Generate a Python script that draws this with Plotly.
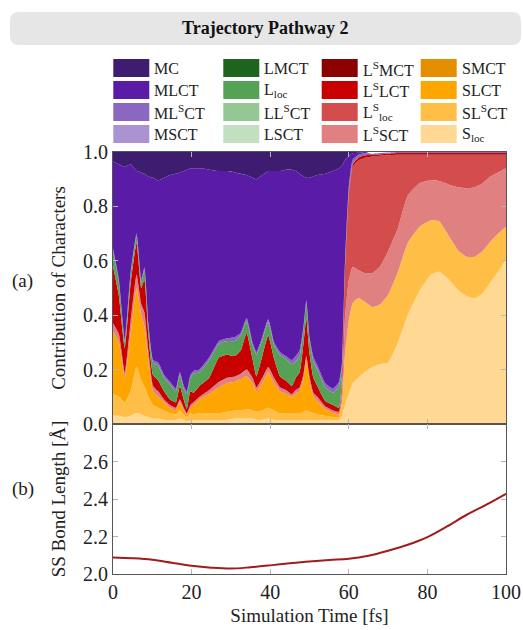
import plotly.graph_objects as go

# ---------------- data ----------------
time_fs = [0, 1.5, 3, 4.5, 6, 7.2, 8, 9, 10.2, 11.5, 13, 14.5, 16, 17, 18, 18.8, 19.7, 20.5, 22, 24.5,
           27, 29, 31, 32.5, 34, 35.5, 36.5, 38, 39.5, 41, 42.5, 44, 45.5, 46.5, 47.5, 48.5, 49.2, 50, 51, 52,
           54, 56, 57.5, 58.3, 59, 60, 61, 62.5, 64, 66, 68, 70, 72.5, 75, 78, 81, 83, 85.5, 88, 90,
           92, 94, 96, 98, 100]

S_loc = [0.03, 0.03, 0.025, 0.03, 0.04, 0.035, 0.03, 0.025, 0.02, 0.02, 0.015, 0.015, 0.015, 0.02, 0.015, 0.01, 0.015, 0.015, 0.015, 0.015,
         0.015, 0.015, 0.02, 0.02, 0.02, 0.02, 0.015, 0.015, 0.02, 0.015, 0.015, 0.015, 0.015, 0.015, 0.015, 0.015, 0.015, 0.015, 0.015, 0.015,
         0.015, 0.015, 0.015, 0.03, 0.07, 0.11, 0.15, 0.17, 0.19, 0.21, 0.22, 0.225, 0.30, 0.40, 0.49, 0.55, 0.56, 0.53, 0.49, 0.47,
         0.462, 0.48, 0.52, 0.56, 0.605]
SLSCT = [0.08, 0.07, 0.055, 0.09, 0.17, 0.125, 0.11, 0.075, 0.05, 0.04, 0.035, 0.025, 0.02, 0.03, 0.02, 0.015, 0.025, 0.02, 0.025, 0.025,
         0.025, 0.03, 0.03, 0.03, 0.035, 0.03, 0.03, 0.035, 0.04, 0.035, 0.025, 0.025, 0.025, 0.025, 0.025, 0.03, 0.035, 0.03, 0.025, 0.02,
         0.015, 0.01, 0.01, 0.05, 0.18, 0.27, 0.295, 0.293, 0.26, 0.22, 0.22, 0.25, 0.26, 0.265, 0.235, 0.20, 0.185, 0.16, 0.145, 0.145,
         0.153, 0.155, 0.15, 0.14, 0.12]
SLCT = [0.23, 0.20, 0.09, 0.21, 0.29, 0.24, 0.22, 0.14, 0.05, 0.04, 0.03, 0.02, 0.015, 0.03, 0.015, 0.01, 0.02, 0.035, 0.05, 0.07,
        0.095, 0.105, 0.105, 0.115, 0.12, 0.10, 0.075, 0.10, 0.13, 0.10, 0.08, 0.07, 0.06, 0.07, 0.08, 0.125, 0.185, 0.115, 0.06, 0.05,
        0.025, 0.015, 0.01, 0.005, 0, 0, 0, 0, 0, 0, 0, 0, 0, 0, 0, 0, 0, 0, 0, 0,
        0, 0, 0, 0, 0]
SMCT = [0] * 65
LSSCT = [0.03, 0.03, 0.02, 0.05, 0.05, 0.04, 0.05, 0.03, 0.02, 0.02, 0.01, 0.01, 0.01, 0.01, 0.01, 0.005, 0.01, 0.01, 0.01, 0.015,
         0.02, 0.02, 0.02, 0.02, 0.025, 0.02, 0.015, 0.02, 0.02, 0.02, 0.015, 0.015, 0.01, 0.015, 0.015, 0.015, 0.015, 0.015, 0.015, 0.015,
         0.01, 0.01, 0.01, 0.035, 0.13, 0.15, 0.133, 0.102, 0.105, 0.125, 0.14, 0.16, 0.16, 0.175, 0.16, 0.147, 0.148, 0.19, 0.235, 0.251,
         0.255, 0.25, 0.24, 0.225, 0.215]
LSloc = [0, 0, 0, 0, 0, 0, 0, 0, 0, 0, 0, 0, 0, 0, 0, 0, 0, 0, 0, 0,
         0, 0, 0, 0, 0, 0, 0, 0, 0, 0, 0, 0, 0, 0, 0, 0, 0, 0, 0, 0,
         0, 0, 0, 0.05, 0.18, 0.31, 0.367, 0.405, 0.423, 0.428, 0.406, 0.353, 0.27, 0.15, 0.105, 0.093, 0.097, 0.11, 0.12, 0.124,
         0.12, 0.105, 0.08, 0.065, 0.05]
LSLCT = [0.21, 0.14, 0.09, 0.14, 0.115, 0.06, 0.12, 0.06, 0.04, 0.04, 0.03, 0.02, 0.02, 0.05, 0.03, 0.015, 0.05, 0.035, 0.04, 0.045,
         0.09, 0.085, 0.075, 0.085, 0.135, 0.07, 0.04, 0.08, 0.115, 0.07, 0.04, 0.035, 0.03, 0.045, 0.055, 0.115, 0.14, 0.085, 0.055, 0.04,
         0.02, 0.02, 0.015, 0.015, 0.005, 0.01, 0.01, 0.01, 0.01, 0.006, 0.006, 0.006, 0.006, 0.006, 0.006, 0.006, 0.006, 0.006, 0.006, 0.006,
         0.006, 0.006, 0.006, 0.006, 0.006]
LSMCT = [0] * 65
LSCT = [0] * 65
LLSCT = [0] * 65
Lloc = [0.055, 0.05, 0.02, 0.03, 0.025, 0.02, 0.035, 0.03, 0.045, 0.055, 0.05, 0.055, 0.04, 0.04, 0.04, 0.055, 0.05, 0.07, 0.05, 0.065,
        0.05, 0.05, 0.055, 0.055, 0.045, 0.05, 0.08, 0.06, 0.05, 0.05, 0.08, 0.08, 0.08, 0.06, 0.06, 0.05, 0.055, 0.05, 0.06, 0.06,
        0.05, 0.045, 0.08, 0.03, 0.01, 0.005, 0.002, 0, 0, 0, 0, 0, 0, 0, 0, 0, 0, 0, 0, 0,
        0, 0, 0, 0, 0]
LMCT = [0] * 65
MSCT = [0] * 65
MLSCT = [0.01, 0.01, 0.01, 0.01, 0.01, 0.01, 0.01, 0.01, 0.01, 0.01, 0.01, 0.01, 0.01, 0.01, 0.01, 0.01, 0.01, 0.01, 0.01, 0.01,
         0.01, 0.01, 0.015, 0.01, 0.01, 0.01, 0.01, 0.01, 0.01, 0.01, 0.01, 0.01, 0.015, 0.02, 0.02, 0.01, 0.01, 0.01, 0.015, 0.015,
         0.015, 0.015, 0.015, 0.015, 0.01, 0.015, 0.015, 0.01, 0.007, 0.004, 0.004, 0.004, 0.004, 0.004, 0.004, 0.004, 0.004, 0.004, 0.004, 0.004,
         0.004, 0.004, 0.004, 0.004, 0.004]
MLCT = [0.32, 0.425, 0.635, 0.395, 0.23, 0.395, 0.345, 0.54, 0.67, 0.67, 0.725, 0.76, 0.79, 0.735, 0.79, 0.815, 0.76, 0.745, 0.74, 0.69,
        0.625, 0.615, 0.605, 0.585, 0.525, 0.605, 0.635, 0.595, 0.545, 0.63, 0.665, 0.685, 0.70, 0.68, 0.65, 0.55, 0.45, 0.585, 0.665, 0.70,
        0.77, 0.80, 0.785, 0.72, 0.385, 0.115, 0.023, 0.007, 0.005, 0, 0, 0, 0, 0, 0, 0, 0, 0, 0, 0,
        0, 0, 0, 0, 0]
MC = [0.035, 0.045, 0.055, 0.05, 0.07, 0.075, 0.08, 0.09, 0.095, 0.105, 0.095, 0.085, 0.08, 0.075, 0.07, 0.065, 0.06, 0.06, 0.06, 0.065,
      0.07, 0.07, 0.075, 0.08, 0.085, 0.095, 0.10, 0.085, 0.07, 0.07, 0.07, 0.065, 0.065, 0.07, 0.08, 0.09, 0.095, 0.095, 0.09, 0.085,
      0.08, 0.07, 0.06, 0.05, 0.03, 0.015, 0.007, 0.003, 0, 0, 0, 0, 0, 0, 0, 0, 0, 0, 0, 0,
      0, 0, 0, 0, 0]

bond_time = [0, 5, 10, 15, 20, 25, 30, 35, 40, 45, 50, 55, 60, 65, 70, 75, 80, 85, 90, 95, 100]
ss_bond = [2.088, 2.084, 2.076, 2.06, 2.044, 2.034, 2.029, 2.036, 2.046, 2.057, 2.067, 2.075, 2.081, 2.097,
           2.124, 2.156, 2.197, 2.254, 2.316, 2.37, 2.428]

# legend grid (rows x columns)
legend_grid = [
    [("MC", "#3e1c70"), ("LMCT", "#1e641e"), ("L<sup>S</sup>MCT", "#8b0000"), ("SMCT", "#e38f00")],
    [("MLCT", "#5a1ca7"), ("L<sub>loc</sub>", "#55a155"), ("L<sup>S</sup>LCT", "#c80000"), ("SLCT", "#ffa500")],
    [("ML<sup>S</sup>CT", "#8a67c0"), ("LL<sup>S</sup>CT", "#94c794"), ("L<sup>S</sup><sub>loc</sub>", "#d44d4d"), ("SL<sup>S</sup>CT", "#ffbf47")],
    [("MSCT", "#ab93d3"), ("LSCT", "#c2e0c0"), ("L<sup>S</sup>SCT", "#e08080"), ("S<sub>loc</sub>", "#ffd994")],
]
color_of = {name: col for row in legend_grid for name, col in row}

# stacking order bottom -> top
stack = [
    ("S<sub>loc</sub>", S_loc), ("SL<sup>S</sup>CT", SLSCT), ("SLCT", SLCT), ("SMCT", SMCT),
    ("L<sup>S</sup>SCT", LSSCT), ("L<sup>S</sup><sub>loc</sub>", LSloc), ("L<sup>S</sup>LCT", LSLCT), ("L<sup>S</sup>MCT", LSMCT),
    ("LSCT", LSCT), ("LL<sup>S</sup>CT", LLSCT), ("L<sub>loc</sub>", Lloc), ("LMCT", LMCT),
    ("MSCT", MSCT), ("ML<sup>S</sup>CT", MLSCT), ("MLCT", MLCT), ("MC", MC),
]

FONT = "Liberation Serif"
W, H = 523, 630
ML, MR, MT, MB = 113, 17, 152, 56
PW, PH = W - ML - MR, H - MT - MB
split = 150 / PH  # bottom panel height fraction


def px2x(px):
    return (px - ML) / PW


def py2y(py):
    return (H - MB - py) / PH


fig = go.Figure()

for name, vals in stack:
    fig.add_trace(go.Scatter(
        x=time_fs, y=vals, stackgroup="one", mode="lines", name=name,
        line=dict(width=0, shape="spline", smoothing=0.45),
        fillcolor=color_of[name], showlegend=False, hoverinfo="skip",
        xaxis="x", yaxis="y"))

fig.add_trace(go.Scatter(
    x=bond_time, y=ss_bond, mode="lines", line=dict(color="#a01c1c", width=2, shape="spline"),
    showlegend=False, xaxis="x2", yaxis="y2"))

axis_common = dict(showline=True, linecolor="#555555", linewidth=1, mirror="ticks",
                   ticks="inside", ticklen=5, tickcolor="#b5b5b5", tickwidth=1,
                   showgrid=False, zeroline=False, automargin=False,
                   tickfont=dict(family=FONT, size=20, color="#222222"))

fig.update_layout(
    width=W, height=H,
    margin=dict(l=ML, r=MR, t=MT, b=MB, autoexpand=False),
    paper_bgcolor="white", plot_bgcolor="white",
    font=dict(family=FONT, color="#222222"),
    xaxis=dict(domain=[0, 1], anchor="y", range=[0, 100], dtick=20, showticklabels=False, **axis_common),
    yaxis=dict(domain=[split, 1], anchor="x", range=[0, 1], tickvals=[0, 0.2, 0.4, 0.6, 0.8, 1.0],
               tickformat=".1f", title=dict(text="Contribution of Characters", font=dict(family=FONT, size=19),
                                            standoff=12), **axis_common),
    xaxis2=dict(domain=[0, 1], anchor="y2", range=[0, 100], dtick=20,
                title=dict(text="Simulation Time [fs]", font=dict(family=FONT, size=19), standoff=6),
                **axis_common),
    yaxis2=dict(domain=[0, split], anchor="x2", range=[2.0, 2.8], tickvals=[2.0, 2.2, 2.4, 2.6],
                tickformat=".1f", title=dict(text="SS Bond Length [Å]", font=dict(family=FONT, size=19),
                                             standoff=12), **axis_common),
)

shapes = []
annotations = []

# title box (rounded rectangle)
x0, x1, y0, y1 = px2x(10), px2x(521), py2y(45), py2y(12)
rx, ry = 9 / PW, 9 / PH
path = (f"M{x0 + rx},{y0} L{x1 - rx},{y0} Q{x1},{y0} {x1},{y0 + ry} L{x1},{y1 - ry} "
        f"Q{x1},{y1} {x1 - rx},{y1} L{x0 + rx},{y1} Q{x0},{y1} {x0},{y1 - ry} L{x0},{y0 + ry} "
        f"Q{x0},{y0} {x0 + rx},{y0} Z")
shapes.append(dict(type="path", path=path, xref="paper", yref="paper",
                   fillcolor="#e6e6e6", line=dict(width=0), layer="below"))
annotations.append(dict(text="<b>Trajectory Pathway 2</b>", x=px2x(265), y=py2y(28.5), xref="paper", yref="paper",
                        showarrow=False, font=dict(family=FONT, size=18, color="#111111"),
                        xanchor="center", yanchor="middle"))

# legend
col_x = [113.3, 223.3, 321.7, 420.7]
row_y = [59, 81, 103, 125]
for r, row in enumerate(legend_grid):
    for c, (name, col) in enumerate(row):
        sx, sy = col_x[c], row_y[r]
        shapes.append(dict(type="rect", xref="paper", yref="paper",
                           x0=px2x(sx), x1=px2x(sx + 36), y0=py2y(sy + 18), y1=py2y(sy),
                           fillcolor=col, line=dict(width=0)))
        annotations.append(dict(text=name, x=px2x(sx + 39), y=py2y(sy + 9.5), xref="paper", yref="paper",
                                showarrow=False, xanchor="left", yanchor="middle",
                                font=dict(family=FONT, size=16, color="#222222")))

# panel labels
annotations.append(dict(text="(a)", x=px2x(22), y=py2y(281), xref="paper", yref="paper", showarrow=False,
                        xanchor="center", yanchor="middle", font=dict(family=FONT, size=19, color="#222222")))
annotations.append(dict(text="(b)", x=px2x(23), y=py2y(489), xref="paper", yref="paper", showarrow=False,
                        xanchor="center", yanchor="middle", font=dict(family=FONT, size=19, color="#222222")))

fig.update_layout(shapes=shapes, annotations=annotations)

fig.write_html("out.html", config={"displayModeBar": False},
               post_script="document.body.style.margin='0px';document.body.style.overflow='hidden';")
